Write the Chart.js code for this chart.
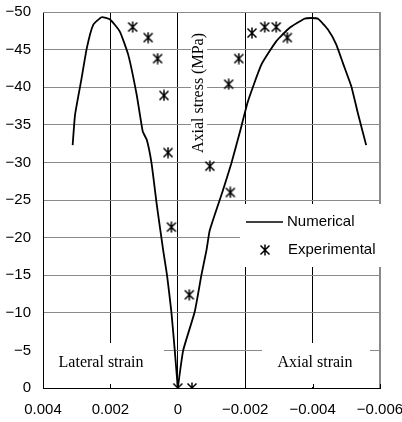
<!DOCTYPE html>
<html>
<head>
<meta charset="utf-8">
<script src="https://cdn.jsdelivr.net/npm/chart.js@4.4.1/dist/chart.umd.min.js"></script>
<style>
  html, body { margin: 0; padding: 0; background: #fff; }
  #wrap { width: 402px; height: 422px; }
</style>
</head>
<body>
<div id="wrap"><canvas id="stressStrain"></canvas></div>
<script>
// numerical model, lateral branch (positive strain)
const numLatStrain = [0, 0.00009, 0.00019, 0.00032, 0.00044, 0.00055, 0.00063, 0.00078, 0.00092, 0.00104,
  0.00122, 0.00147, 0.00172, 0.00201, 0.00226, 0.00251, 0.0027, 0.00287, 0.00305, 0.00312]
const numLatStress = [0, -5, -10.1, -15, -18.5, -22, -24.6, -29.9, -33, -34.1,
  -39, -44.3, -47.4, -49, -49.3, -48.3, -45.2, -40.8, -36.3, -32.3]

// numerical model, axial branch (negative strain)
const numAxStrain = [0, -0.00016, -0.0005, -0.0007, -0.00085, -0.00095, -0.00134, -0.00159, -0.00184, -0.00208,
  -0.00248, -0.00292, -0.00332, -0.00376, -0.00396, -0.00416, -0.00445, -0.0047, -0.0049, -0.00515, -0.00534, -0.00559]
const numAxStress = [0, -5, -10.1, -15, -18.3, -21, -26.3, -29.9, -34, -38.1,
  -43, -46.1, -47.9, -49.1, -49.2, -49.1, -47.7, -45.7, -43.2, -40.1, -36.6, -32.3]

// test results
const expStrain = [0.00134, 0.00088, 0.0006, 0.00041, 0.00029, 0.00019, -0.00034, 0, -0.00042,
  -0.00095, -0.00156, -0.00151, -0.00181, -0.0022, -0.00258, -0.00292, -0.00325]
const expStress = [-48, -46.6, -43.8, -38.9, -31.3, -21.4, -12.4, 0, 0,
  -29.5, -26, -40.4, -43.8, -47.2, -48, -48, -46.6]

const xTicks = [0.004, 0.002, 0, -0.002, -0.004, -0.006]
const yTicks = [0, -5, -10, -15, -20, -25, -30, -35, -40, -45, -50]

const MINUS = '\u2212'
const gridGray = '#8a8a8a'

const toPoints = (xs, ys) => xs.map((x, i) => ({ x: x, y: ys[i] }))

// asterisk marker: an X with a vertical bar through it
function makeStar(size) {
  const c = document.createElement('canvas')
  c.width = size
  c.height = size
  const g = c.getContext('2d')
  const m = 1.5
  g.strokeStyle = '#000'
  g.lineWidth = 1.5
  g.beginPath()
  g.moveTo(m, m); g.lineTo(size - m, size - m)
  g.moveTo(size - m, m); g.lineTo(m, size - m)
  g.moveTo(size / 2, 0.5); g.lineTo(size / 2, size - 0.5)
  g.stroke()
  return c
}
const star = makeStar(12)

const fmtX = v => {
  if (Math.abs(v) < 1e-9) return '0'
  return (v < 0 ? MINUS : '') + Math.abs(v).toFixed(3)
}
const fmtY = v => (v === 0 ? '0' : (v < 0 ? MINUS : '') + Math.abs(v))

// white boxes behind the in-plot labels, plus the labels and the key
const annotations = {
  id: 'annotations',
  beforeDatasetsDraw(chart) {
    const { ctx, chartArea: a, scales } = chart
    ctx.save()

    // frame on top and right
    ctx.strokeStyle = gridGray
    ctx.lineWidth = 1
    ctx.beginPath()
    ctx.moveTo(a.left, a.top + 0.5); ctx.lineTo(a.right, a.top + 0.5)
    ctx.moveTo(a.right - 0.5, a.top); ctx.lineTo(a.right - 0.5, a.bottom)
    ctx.stroke()

    ctx.fillStyle = '#fff'
    ctx.fillRect(a.left + 1, 343, 120, a.bottom - 344)
    ctx.fillRect(262, 343, 108, a.bottom - 344)
    ctx.fillRect(240, 204, 144, 63)
    ctx.fillRect(191, 28, 16, 130)

    // small inside ticks on the strain axis
    ctx.strokeStyle = '#000'
    ctx.beginPath()
    xTicks.forEach(v => {
      const px = Math.round(scales.x.getPixelForValue(v)) + 0.5
      ctx.moveTo(px, a.bottom); ctx.lineTo(px, a.bottom - 4)
    })
    ctx.stroke()

    ctx.fillStyle = '#000'
    ctx.font = '16px "Liberation Serif", "Times New Roman", serif'
    ctx.textAlign = 'center'
    ctx.textBaseline = 'middle'
    ctx.fillText('Lateral strain', 101, 363)
    ctx.fillText('Axial strain', 315, 363)

    ctx.save()
    ctx.translate(199, 93)
    ctx.rotate(-Math.PI / 2)
    ctx.fillText('Axial stress (MPa)', 0, 0)
    ctx.restore()

    // key
    ctx.strokeStyle = '#000'
    ctx.lineWidth = 1.6
    ctx.beginPath()
    ctx.moveTo(246, 222); ctx.lineTo(283, 222)
    ctx.stroke()
    ctx.drawImage(star, 265 - 6, 250 - 6)
    ctx.font = '15px "Liberation Sans", Arial, sans-serif'
    ctx.textAlign = 'left'
    ctx.fillText('Numerical', 287, 222)
    ctx.fillText('Experimental', 288, 250)

    ctx.restore()
  }
}

const lineStyle = {
  borderColor: '#000',
  borderWidth: 1.8,
  pointRadius: 0,
  tension: 0.15,
  fill: false,
  showLine: true,
}

new Chart(document.getElementById('stressStrain'), {
  type: 'scatter',
  data: {
    datasets: [
      { label: 'Numerical', data: toPoints(numLatStrain, numLatStress), ...lineStyle },
      { label: 'Numerical', data: toPoints(numAxStrain, numAxStress), ...lineStyle },
      {
        label: 'Experimental',
        data: toPoints(expStrain, expStress),
        pointStyle: star,
        pointRadius: 6,
        showLine: false,
      },
    ],
  },
  options: {
    responsive: true,
    maintainAspectRatio: false,
    animation: false,
    layout: { padding: { top: 12, right: 22, left: 0, bottom: 0 } },
    plugins: {
      legend: { display: false },
      tooltip: { enabled: false },
    },
    scales: {
      x: {
        type: 'linear',
        min: -0.006,
        max: 0.004,
        reverse: true,
        afterBuildTicks: s => { s.ticks = xTicks.map(v => ({ value: v })) },
        afterFit: s => {
          s.height = 34
          s.paddingLeft = 0
          s.paddingRight = 0
        },
        ticks: {
          callback: fmtX,
          color: '#000',
          padding: 13,
          maxRotation: 0,
          font: { family: '"Liberation Sans", Arial, sans-serif', size: 15 },
        },
        grid: {
          drawTicks: false,
          tickLength: 0,
          color: ctx => (ctx.tick && ctx.tick.value === -0.006 ? gridGray : '#000'),
          lineWidth: 1,
        },
        border: { color: '#000', width: 1 },
      },
      y: {
        type: 'linear',
        min: -50,
        max: 0,
        reverse: true,
        afterBuildTicks: s => { s.ticks = yTicks.map(v => ({ value: v })) },
        afterFit: s => {
          s.width = 43
          s.paddingTop = 0
          s.paddingBottom = 0
        },
        ticks: {
          callback: fmtY,
          color: '#000',
          padding: 12,
          font: { family: '"Liberation Sans", Arial, sans-serif', size: 15 },
        },
        grid: {
          drawTicks: false,
          tickLength: 0,
          color: gridGray,
          lineWidth: 1,
        },
        border: { color: '#000', width: 1 },
      },
    },
  },
  plugins: [annotations],
})
</script>
</body>
</html>
